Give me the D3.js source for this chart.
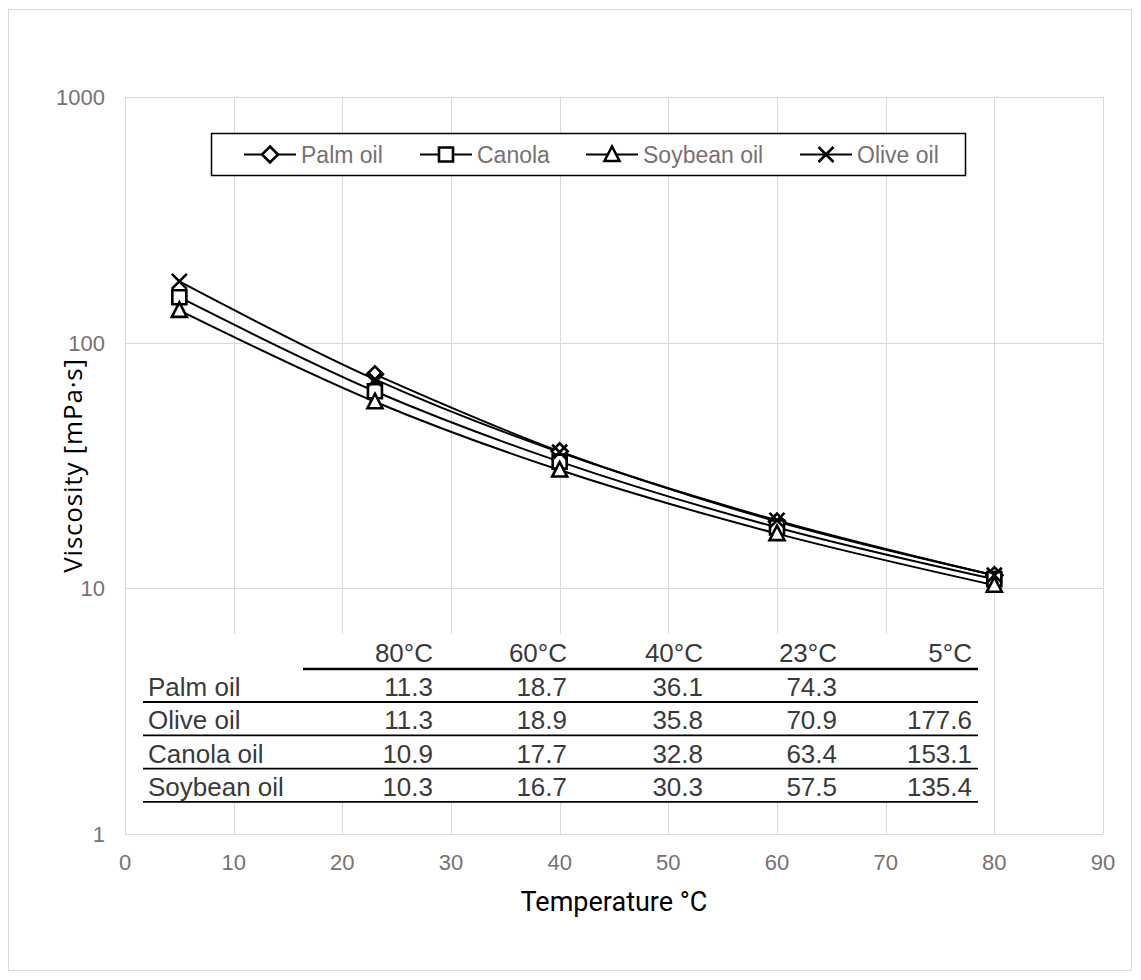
<!DOCTYPE html>
<html>
<head>
<meta charset="utf-8">
<script src="https://cdn.jsdelivr.net/npm/d3@7"></script>
<style>
  body { margin: 0; background: #fff; }
  svg text { font-family: "Liberation Sans", Arial, sans-serif; }
</style>
</head>
<body>
<svg id="chart" width="1141" height="980"></svg>
<script>
// temperatures (x) and viscosity values (mPa·s) per oil
const temps = [80, 60, 40, 23, 5]
const palm = [11.3, 18.7, 36.1, 74.3, null]
const olive = [11.3, 18.9, 35.8, 70.9, 177.6]
const canola = [10.9, 17.7, 32.8, 63.4, 153.1]
const soybean = [10.3, 16.7, 30.3, 57.5, 135.4]

const xTicks = [0, 10, 20, 30, 40, 50, 60, 70, 80, 90]
const yTicks = [1, 10, 100, 1000]

const legendNames = ['Palm oil', 'Canola', 'Soybean oil', 'Olive oil']
const tableNames = ['Palm oil', 'Olive oil', 'Canola oil', 'Soybean oil']

let series = [
  { name: legendNames[0], values: palm, marker: 'diamond' },
  { name: legendNames[1], values: canola, marker: 'square' },
  { name: legendNames[2], values: soybean, marker: 'triangle' },
  { name: legendNames[3], values: olive, marker: 'cross' }
]
let tableRows = [palm, olive, canola, soybean]

let svg = d3.select('#chart')
let plotLeft = 125, plotRight = 1103, plotTop = 97, plotBottom = 834

let x = d3.scaleLinear().domain([0, 90]).range([plotLeft, plotRight])
let y = d3.scaleLog().domain([1, 1000]).range([plotBottom, plotTop])

let tickColor = '#797171'
let gridColor = '#d9d9d9'

// outer chart border
svg.append('rect')
    .attr('x', 8.5).attr('y', 9.5)
    .attr('width', 1123).attr('height', 961)
    .attr('fill', 'none')
    .attr('stroke', gridColor)

// gridlines
let grid = svg.append('g')
grid.selectAll('line.h')
  .data(yTicks)
  .enter().append('line')
    .attr('x1', plotLeft).attr('x2', plotRight)
    .attr('y1', d => Math.round(y(d)) + 0.5)
    .attr('y2', d => Math.round(y(d)) + 0.5)
    .attr('stroke', gridColor)
grid.selectAll('line.v')
  .data(xTicks)
  .enter().append('line')
    .attr('y1', plotTop).attr('y2', plotBottom)
    .attr('x1', d => Math.round(x(d)) + 0.5)
    .attr('x2', d => Math.round(x(d)) + 0.5)
    .attr('stroke', gridColor)

// tick labels
svg.append('g').selectAll('text')
  .data(yTicks)
  .enter().append('text')
    .attr('x', 105)
    .attr('y', d => y(d))
    .attr('dy', '0.36em')
    .attr('text-anchor', 'end')
    .attr('font-size', 22)
    .attr('fill', tickColor)
    .text(d => d)

svg.append('g').selectAll('text')
  .data(xTicks)
  .enter().append('text')
    .attr('x', d => x(d))
    .attr('y', 870)
    .attr('text-anchor', 'middle')
    .attr('font-size', 22)
    .attr('fill', tickColor)
    .text(d => d)

// axis titles
svg.append('text')
    .attr('transform', 'translate(82,' + (plotTop + plotBottom) / 2 + ') rotate(-90)')
    .attr('text-anchor', 'middle')
    .attr('font-size', 26)
    .attr('letter-spacing', 0.8)
    .style('font-family', '"Open Sans", sans-serif')
    .text('Viscosity [mPa·s]')

svg.append('text')
    .attr('x', (plotLeft + plotRight) / 2)
    .attr('y', 911)
    .attr('text-anchor', 'middle')
    .attr('font-size', 27)
    .style('font-family', 'Roboto, sans-serif')
    .text('Temperature °C')

// data table (white box hides the grid)
let tbl = svg.append('g')
tbl.append('rect')
    .attr('x', 130).attr('y', 634)
    .attr('width', 860).attr('height', 169)
    .attr('fill', '#fff')

let colRight = [433, 567, 703, 837, 972]
let tableColor = '#3a3a3a'
tbl.selectAll('text.head')
  .data(temps)
  .enter().append('text')
    .attr('x', (d, i) => colRight[i])
    .attr('y', 662)
    .attr('text-anchor', 'end')
    .attr('font-size', 26)
    .attr('fill', tableColor)
    .text(d => d + '°C')
tbl.append('line')
    .attr('x1', 303).attr('x2', 978)
    .attr('y1', 669).attr('y2', 669)
    .attr('stroke', '#000').attr('stroke-width', 2.5)

tableRows.forEach(function(row, r) {
  let base = 696 + r * 33.3
  tbl.append('text')
      .attr('x', 148).attr('y', base)
      .attr('font-size', 26)
      .attr('fill', tableColor)
      .text(tableNames[r])
  tbl.selectAll('text.v' + r)
    .data(row)
    .enter().append('text')
      .attr('x', (d, i) => colRight[i])
      .attr('y', base)
      .attr('text-anchor', 'end')
      .attr('font-size', 26)
      .attr('fill', tableColor)
      .text(d => d == null ? '' : d.toFixed(1))
  tbl.append('line')
      .attr('x1', 143).attr('x2', 978)
      .attr('y1', base + 6).attr('y2', base + 6)
      .attr('stroke', '#000').attr('stroke-width', 1.8)
})

// marker shapes
function markerPath(type) {
  if (type === 'diamond') return 'M0,-8L8,0L0,8L-8,0Z'
  if (type === 'square') return 'M-7,-7H7V7H-7Z'
  if (type === 'triangle') return 'M0,-8L7.5,6.5H-7.5Z'
  return 'M-7.5,-7.5L7.5,7.5M7.5,-7.5L-7.5,7.5'
}

let line = d3.line()
    .x(d => x(d.t))
    .y(d => y(d.v))
    .curve(d3.curveCatmullRom)

series.forEach(function(s) {
  let pts = temps.map((t, i) => ({ t: t, v: s.values[i] })).filter(p => p.v != null)
  svg.append('path')
      .attr('d', line(pts))
      .attr('fill', 'none')
      .attr('stroke', '#000')
      .attr('stroke-width', 2)
})
series.forEach(function(s) {
  let pts = temps.map((t, i) => ({ t: t, v: s.values[i] })).filter(p => p.v != null)
  svg.append('g').selectAll('path')
    .data(pts)
    .enter().append('path')
      .attr('transform', d => 'translate(' + x(d.t) + ',' + y(d.v) + ')')
      .attr('d', markerPath(s.marker))
      .attr('fill', s.marker === 'cross' ? 'none' : '#fff')
      .attr('stroke', '#000')
      .attr('stroke-width', 2.6)
})

// legend
let lg = svg.append('g')
lg.append('rect')
    .attr('x', 211.5).attr('y', 133.5)
    .attr('width', 754).attr('height', 42)
    .attr('fill', '#fff')
    .attr('stroke', '#000')
    .attr('stroke-width', 1.5)
let legendX = [244, 420, 586, 800]
series.forEach(function(s, i) {
  let g = lg.append('g').attr('transform', 'translate(' + legendX[i] + ',154.5)')
  g.append('line')
      .attr('x1', 0).attr('x2', 52)
      .attr('stroke', '#000').attr('stroke-width', 2)
  g.append('path')
      .attr('transform', 'translate(26,0)')
      .attr('d', markerPath(s.marker))
      .attr('fill', s.marker === 'cross' ? 'none' : '#fff')
      .attr('stroke', '#000')
      .attr('stroke-width', 2.6)
  g.append('text')
      .attr('x', 57)
      .attr('dy', '0.36em')
      .attr('font-size', 23)
      .attr('fill', tickColor)
      .text(s.name)
})
</script>
</body>
</html>
